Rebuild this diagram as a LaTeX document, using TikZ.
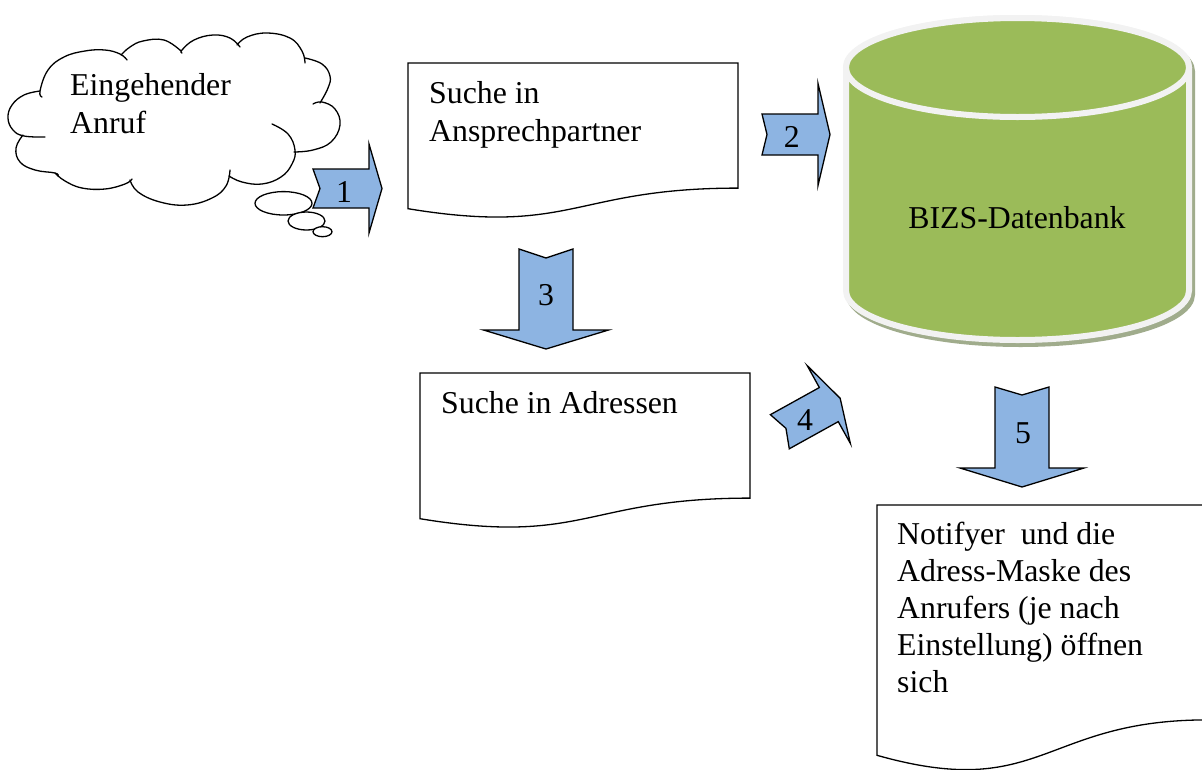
\documentclass[tikz,border=0pt]{standalone}
\usepackage{fontspec}
\setmainfont{Liberation Serif}
\definecolor{arrowblue}{RGB}{141,180,226}
\definecolor{cangreen}{RGB}{155,187,89}
\definecolor{canborder}{RGB}{242,242,242}
\definecolor{canshadow}{RGB}{160,172,140}
\tikzset{
  txt/.style={inner sep=0pt, align=left, font=\fontsize{31.8}{38}\selectfont},
  docbox/.style={draw=black, fill=white, line width=1.3pt, line join=miter},
  cloudline/.style={draw=black, line width=1.3pt, line cap=round},
  blockarrow/.style={draw=black, fill=arrowblue, line width=1.3pt, line join=miter},
  canbody/.style={fill=cangreen, draw=canborder, line width=6pt},
  canshade/.style={fill=canshadow, draw=canshadow, line width=6pt},
  pics/notched/.style args={#1/#2/#3/#4/#5}{code={
    \path[blockarrow] (-#1,-#2) -- (#4,-#2) -- (#4,-#3) -- (#1,0) -- (#4,#3) -- (#4,#2) -- (-#1,#2) -- ({-#1+#5},0) -- cycle;
  }},
}
\begin{document}
\begin{tikzpicture}[x=1pt,y=-1pt]
\useasboundingbox (0,0) rectangle (1202,769);
\clip (0,0) rectangle (1202,769);
\fill[white] (0,0) rectangle (1202,769);

% ---- cloud ----
\draw[cloudline] plot[smooth,tension=0.7] coordinates {(127,60) (120,54) (105,50) (85,51) (64,57) (48,70) (40,91) (42,97)};
\draw[cloudline] plot[smooth,tension=0.7] coordinates {(40,91) (24,95) (12,105) (8,118) (13,130) (24,136) (45,137)};
\draw[cloudline] plot[smooth,tension=0.7] coordinates {(23,135) (16,148) (20,162) (35,170) (55,173) (58,176)};
\draw[cloudline] plot[smooth,tension=0.7] coordinates {(55,173) (65,181) (82,188) (105,189) (125,184) (132,179)};
\draw[cloudline] plot[smooth,tension=0.7] coordinates {(130,180) (138,192) (160,202) (187,205) (212,198) (226,186) (230,170)};
\draw[cloudline] plot[smooth,tension=0.7] coordinates {(229,176) (242,182) (262,184) (281,177) (292,164) (295,150) (288,134) (272,124)};
\draw[cloudline] plot[smooth,tension=0.7] coordinates {(294,152) (313,150) (331,142) (340,125) (335,109) (322,102) (313,104)};
\draw[cloudline] plot[smooth,tension=0.7] coordinates {(320,103) (328,88) (330,76) (322,64) (305,58)};
\draw[cloudline] plot[smooth,tension=0.7] coordinates {(305,63) (302,51) (290,38) (267,33) (247,37) (237,45)};
\draw[cloudline] plot[smooth,tension=0.7] coordinates {(240,47) (230,38) (213,35) (194,40) (182,50) (182,53)};
\draw[cloudline] plot[smooth,tension=0.7] coordinates {(181,51) (164,40) (143,41) (130,47) (121,55)};
\draw[cloudline, fill=white] (283.5,203.3) ellipse[x radius=28.5, y radius=11.7];
\draw[cloudline, fill=white] (306.5,221) ellipse[x radius=18.5, y radius=9];
\draw[cloudline, fill=white] (322.5,231.7) ellipse[x radius=9.5, y radius=5];
\node[txt, anchor=base west] (call) at (70,133) {Eingehender\\Anruf};

% ---- documents ----
\path[docbox] (408,63) -- (738,63) -- (738,188.1) .. controls (573,188.1) and (573,235.8) .. (408,208.7) -- cycle;
\node[txt, anchor=base west] (ansp) at (429,141) {Suche in\\Ansprechpartner};

\path[docbox] (420,373) -- (750,373) -- (750,498.1) .. controls (585,498.1) and (585,545.8) .. (420,518.7) -- cycle;
\node[txt, anchor=base west] (adr) at (441,413) {Suche in Adressen};

\path[docbox] (877,505) -- (1207,505) -- (1207,719.9) .. controls (1042,719.9) and (1042,801.9) .. (877,755.3) -- cycle;
\node[txt, anchor=base west, font=\fontsize{31.8}{36.8}\selectfont] (notif) at (897,692) {Notifyer~ und die\\Adress-Maske des\\Anrufers (je nach\\Einstellung) öffnen\\sich};

% ---- database cylinder ----
\begin{scope}[shift={(3,4)}]
\path[canshade] (846,67.5) -- (846,290.5) arc[start angle=180, end angle=0, x radius=171.5, y radius=49.5] -- (1189,67.5) arc[start angle=0, end angle=-180, x radius=171.5, y radius=49.5] -- cycle;
\end{scope}
\path[canbody] (846,67.5) -- (846,290.5) arc[start angle=180, end angle=0, x radius=171.5, y radius=49.5] -- (1189,67.5) arc[start angle=0, end angle=-180, x radius=171.5, y radius=49.5] -- cycle;
\path[canbody] (1017.5,67.5) ellipse[x radius=171.5, y radius=49.5];
\node[txt, anchor=base] (db) at (1017,228) {BIZS-Datenbank};

% ---- block arrows ----
\pic (a1) at (347.5,188.5) {notched={34.5/19.5/44.5/21.5/7}};
\pic (a2) at (796,134.5) {notched={34/20.5/51/22/5}};
\pic[rotate=-90] (a3) at (546,299) {notched={50/27/62.5/31/9}};
\pic[rotate=29] (a4) at (810,415) {notched={34.5/19.5/44.5/21.5/7}};
\pic[rotate=-90] (a5) at (1022,437) {notched={50/27/62/31/8}};

\node[txt, anchor=base] (l1) at (344,202.7) {1};
\node[txt, anchor=base] (l2) at (791.7,147.7) {2};
\node[txt, anchor=base] (l3) at (546,305) {3};
\node[txt, anchor=base] (l4) at (805,430) {4};
\node[txt, anchor=base] (l5) at (1023,443) {5};
\end{tikzpicture}
\end{document}
